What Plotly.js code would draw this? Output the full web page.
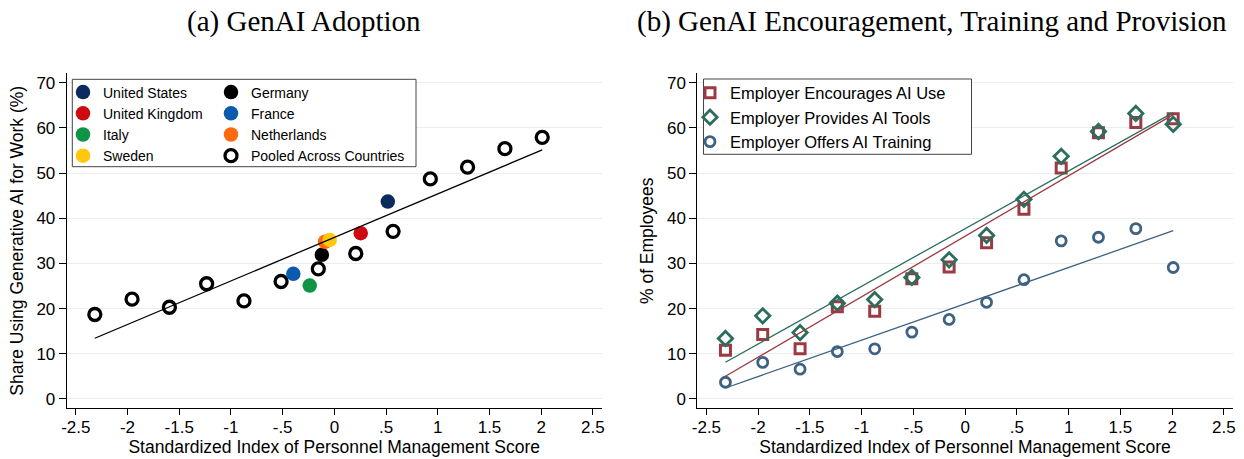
<!DOCTYPE html>
<html>
<head>
<meta charset="utf-8">
<script src="https://cdn.plot.ly/plotly-3.0.1.min.js"></script>
<style>
  html, body { margin: 0; padding: 0; background: #ffffff; }
  #chart { width: 1244px; height: 459px; }
</style>
</head>
<body>
<div id="chart"></div>
<script>
// ---------- data ----------
const managementBins = [-2.316, -1.956, -1.595, -1.235, -0.874, -0.515, -0.155, 0.207, 0.568, 0.928, 1.288, 1.649, 2.010];
const pooledShare = [18.7, 22.1, 20.3, 25.5, 21.7, 26.0, 28.8, 32.2, 37.1, 48.7, 51.3, 55.4, 57.9];

const countryNames = ["United States", "United Kingdom", "Italy", "Sweden", "Germany", "France", "Netherlands"];
const countryIndex = [0.517, 0.255, -0.238, -0.045, -0.121, -0.397, -0.090];
const countryShare = [43.7, 36.7, 25.1, 35.2, 31.9, 27.7, 34.8];

const encouragesUse = [10.8, 14.3, 11.1, 20.4, 19.4, 26.6, 29.2, 34.6, 42.0, 51.1, 58.9, 61.2, 62.0];
const providesTools = [13.4, 18.4, 14.7, 21.2, 22.0, 26.9, 30.8, 36.2, 44.2, 53.7, 59.2, 63.2, 60.8];
const offersTraining = [3.7, 8.1, 6.6, 10.5, 11.1, 14.8, 17.6, 21.4, 26.4, 35.0, 35.8, 37.7, 29.1];

const xTickVals = [-2.5, -2, -1.5, -1, -0.5, 0, 0.5, 1, 1.5, 2, 2.5];
const xTickText = ["-2.5", "-2", "-1.5", "-1", "-.5", "0", ".5", "1", "1.5", "2", "2.5"];
const yTickVals = [0, 10, 20, 30, 40, 50, 60, 70];

const panelTitles = ["(a) GenAI Adoption", "(b) GenAI Encouragement, Training and Provision"];
const xTitle = "Standardized Index of Personnel Management Score";
const yTitleLeft = "Share Using Generative AI for Work (%)";
const yTitleRight = "% of Employees";
const seriesNames = ["Employer Encourages AI Use", "Employer Provides AI Tools", "Employer Offers AI Training"];
const pooledName = "Pooled Across Countries";

// ---------- style ----------
const countryColors = {
  "United States": "#0b2a5e",
  "United Kingdom": "#cc0a10",
  "Italy": "#0e9447",
  "Sweden": "#ffc80c",
  "Germany": "#000000",
  "France": "#0b5aad",
  "Netherlands": "#ff6a10"
};
const countryLegend = {
  "United States": ["legend", 1], "United Kingdom": ["legend", 2], "Italy": ["legend", 3], "Sweden": ["legend", 4],
  "Germany": ["legend2", 1], "France": ["legend2", 2], "Netherlands": ["legend2", 3]
};
const drawOrder = ["United States", "United Kingdom", "Italy", "Germany", "France", "Netherlands", "Sweden"];
const colEnc = "#9b3a42", colProv = "#2b6e5e", colTrain = "#3d6282";

function ols(xs, ys) {
  const n = xs.length;
  const mx = xs.reduce((a, b) => a + b, 0) / n;
  const my = ys.reduce((a, b) => a + b, 0) / n;
  let sxy = 0, sxx = 0;
  for (let i = 0; i < n; i++) { sxy += (xs[i] - mx) * (ys[i] - my); sxx += (xs[i] - mx) ** 2; }
  const b = sxy / sxx, a = my - b * mx;
  const x0 = Math.min(...xs), x1 = Math.max(...xs);
  return { x: [x0, x1], y: [a + b * x0, a + b * x1] };
}

const traces = [];
// Left panel
traces.push({
  type: "scatter", mode: "markers", x: managementBins, y: pooledShare, name: pooledName,
  xaxis: "x", yaxis: "y", legend: "legend2", legendrank: 4,
  marker: { symbol: "circle-open", size: 12, color: "#000", line: { width: 3.3, color: "#000" } },
  hoverinfo: "x+y"
});
drawOrder.forEach(function (nm) {
  const i = countryNames.indexOf(nm);
  traces.push({
    type: "scatter", mode: "markers", x: [countryIndex[i]], y: [countryShare[i]], name: nm,
    xaxis: "x", yaxis: "y", legend: countryLegend[nm][0], legendrank: countryLegend[nm][1],
    marker: { symbol: "circle", size: 14.5, color: countryColors[nm], line: { width: 0 } }
  });
});
const fitPooled = ols(managementBins, pooledShare);
traces.push({
  type: "scatter", mode: "lines", x: fitPooled.x, y: fitPooled.y, xaxis: "x", yaxis: "y",
  showlegend: false, line: { color: "#000", width: 1.3 }, hoverinfo: "skip"
});

// Right panel
traces.push({
  type: "scatter", mode: "markers", x: managementBins, y: encouragesUse, name: seriesNames[0],
  xaxis: "x2", yaxis: "y2", legend: "legend3", legendrank: 1,
  marker: { symbol: "square-open", size: 10, color: colEnc, line: { width: 3, color: colEnc } }
});
traces.push({
  type: "scatter", mode: "markers", x: managementBins, y: providesTools, name: seriesNames[1],
  xaxis: "x2", yaxis: "y2", legend: "legend3", legendrank: 2,
  marker: { symbol: "diamond-open", size: 11, color: colProv, line: { width: 2.8, color: colProv } }
});
traces.push({
  type: "scatter", mode: "markers", x: managementBins, y: offersTraining, name: seriesNames[2],
  xaxis: "x2", yaxis: "y2", legend: "legend3", legendrank: 3,
  marker: { symbol: "circle-open", size: 10, color: colTrain, line: { width: 2.8, color: colTrain } }
});
[[encouragesUse, colEnc], [providesTools, colProv], [offersTraining, colTrain]].forEach(function (s) {
  const f = ols(managementBins, s[0]);
  traces.push({
    type: "scatter", mode: "lines", x: f.x, y: f.y, xaxis: "x2", yaxis: "y2",
    showlegend: false, line: { color: s[1], width: 1.3 }, hoverinfo: "skip"
  });
});

// ---------- layout ----------
const W = 1244, H = 459;
const px = v => v / W, py = v => 1 - v / H;
const tickFont = { family: "Liberation Sans, Arial, sans-serif", size: 17, color: "#000" };
const titleFont = { family: "Liberation Sans, Arial, sans-serif", size: 17.5, color: "#000" };

function xAxis(domain, anchor) {
  return {
    domain: domain, anchor: anchor, range: [-2.588, 2.585],
    tickmode: "array", tickvals: xTickVals, ticktext: xTickText,
    ticks: "outside", ticklen: 6, tickwidth: 1, tickcolor: "#000", ticklabelstandoff: -3,
    showline: true, linecolor: "#000", linewidth: 1, mirror: false,
    showgrid: false, zeroline: false, tickfont: tickFont,
    title: { text: xTitle, font: titleFont, standoff: 3 }, automargin: false, fixedrange: true
  };
}
function yAxis(anchor, title) {
  return {
    domain: [py(408.3), py(73.3)], anchor: anchor, range: [-2.06, 72.08],
    tickmode: "array", tickvals: yTickVals,
    ticks: "outside", ticklen: 7, tickwidth: 1, tickcolor: "#000",
    showline: true, linecolor: "#000", linewidth: 1,
    showgrid: true, gridcolor: "#ededed", gridwidth: 1, zeroline: false, tickfont: tickFont,
    title: { text: title, font: titleFont, standoff: 8 }, automargin: false, fixedrange: true
  };
}

const legendFontSmall = { family: "Liberation Sans, Arial, sans-serif", size: 14, color: "#000" };
const legendFontLarge = { family: "Liberation Sans, Arial, sans-serif", size: 16.5, color: "#000" };

const layout = {
  width: W, height: H,
  margin: { l: 0, r: 0, t: 0, b: 0 },
  paper_bgcolor: "#ffffff", plot_bgcolor: "#ffffff",
  showlegend: true,
  xaxis: xAxis([px(66.7), px(601.7)], "y"),
  yaxis: yAxis("x", yTitleLeft),
  xaxis2: xAxis([px(697.3), px(1232.7)], "y2"),
  yaxis2: yAxis("x2", yTitleRight),
  legend: { x: px(63), y: py(76.5), xanchor: "left", yanchor: "top", bgcolor: "rgba(0,0,0,0)", borderwidth: 0,
            font: legendFontSmall, tracegroupgap: 0, itemclick: false, itemdoubleclick: false },
  legend2: { x: px(211), y: py(76.5), xanchor: "left", yanchor: "top", bgcolor: "rgba(0,0,0,0)", borderwidth: 0,
            font: legendFontSmall, tracegroupgap: 0, itemclick: false, itemdoubleclick: false },
  legend3: { x: px(690), y: py(75.5), xanchor: "left", yanchor: "top", bgcolor: "rgba(0,0,0,0)", borderwidth: 0,
            font: legendFontLarge, tracegroupgap: 0, itemclick: false, itemdoubleclick: false },
  shapes: [
    { type: "rect", xref: "paper", yref: "paper", x0: px(72.3), x1: px(416), y0: py(166.7), y1: py(79.3),
      line: { color: "#444", width: 1 }, fillcolor: "#ffffff", layer: "above" },
    { type: "rect", xref: "paper", yref: "paper", x0: px(703.5), x1: px(971.5), y0: py(154.3), y1: py(79),
      line: { color: "#444", width: 1 }, fillcolor: "#ffffff", layer: "above" }
  ],
  annotations: [
    { text: panelTitles[0], xref: "paper", yref: "paper", x: px(304), y: py(22), xanchor: "center", yanchor: "middle",
      showarrow: false, font: { family: "Liberation Serif, Times New Roman, serif", size: 29, color: "#000" } },
    { text: panelTitles[1], xref: "paper", yref: "paper", x: px(932), y: py(22), xanchor: "center", yanchor: "middle",
      showarrow: false, font: { family: "Liberation Serif, Times New Roman, serif", size: 29, color: "#000" } }
  ]
};

Plotly.newPlot("chart", traces, layout, { staticPlot: true, displayModeBar: false });
</script>
</body>
</html>
